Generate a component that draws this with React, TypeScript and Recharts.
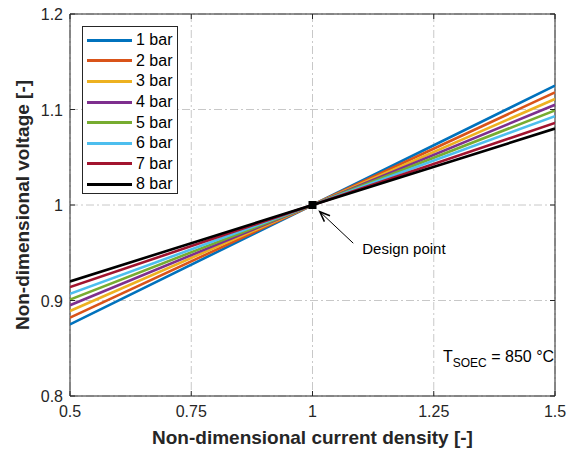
import React from 'react';
import {
  LineChart,
  Line,
  XAxis,
  YAxis,
  CartesianGrid,
  ReferenceArea,
  ReferenceDot,
  ReferenceLine,
} from 'recharts';

// x positions of the plotted points (non-dimensional current density)
const currentDensity = [0.5, 1, 1.5];
const pressureLabels = ['1 bar', '2 bar', '3 bar', '4 bar', '5 bar', '6 bar', '7 bar', '8 bar'];
// voltage at j = 0.5, 1 and 1.5 for each pressure
const voltageLow = [0.875, 0.882, 0.889, 0.895, 0.901, 0.907, 0.914, 0.92];
const voltageMid = [1, 1, 1, 1, 1, 1, 1, 1];
const voltageHigh = [1.125, 1.118, 1.111, 1.105, 1.099, 1.093, 1.086, 1.08];
const seriesColors = ['#0072BD', '#D95319', '#EDB120', '#7E2F8E', '#77AC30', '#4DBEEE', '#A2142F', '#000000'];

const xTicks = [0.5, 0.75, 1, 1.25, 1.5];
const yTicks = [0.8, 0.9, 1, 1.1, 1.2];
const designPoint = { x: 1, y: 1 };
const arrowFrom = { x: 1.084, y: 0.96 };
const arrowTo = { x: 1.015, y: 0.993 };

const columns = [voltageLow, voltageMid, voltageHigh];
const data = currentDensity.map((x, i) => {
  const row: Record<string, number> = { x };
  pressureLabels.forEach((name, s) => {
    row[name] = columns[i][s];
  });
  return row;
});

const FONT = 'Arial, "Liberation Sans", Helvetica, sans-serif';
const PLOT_TOP = 14;
const PLOT_BOTTOM = 396;
const PLOT_LEFT = 70;
const PLOT_RIGHT = 555;

const XTick = ({ x, y, payload }: any) => (
  <g>
    <line x1={x} x2={x} y1={PLOT_BOTTOM} y2={PLOT_BOTTOM - 5} stroke="#262626" />
    <line x1={x} x2={x} y1={PLOT_TOP} y2={PLOT_TOP + 5} stroke="#262626" />
    <text x={x} y={y + 21} textAnchor="middle" fontSize={16} fill="#262626" fontFamily={FONT}>
      {String(payload.value)}
    </text>
  </g>
);

const YTick = ({ x, y, payload }: any) => (
  <g>
    <line x1={PLOT_LEFT} x2={PLOT_LEFT + 5} y1={y} y2={y} stroke="#262626" />
    <line x1={PLOT_RIGHT} x2={PLOT_RIGHT - 5} y1={y} y2={y} stroke="#262626" />
    <text x={x - 7} y={y + 6} textAnchor="end" fontSize={16} fill="#262626" fontFamily={FONT}>
      {String(payload.value)}
    </text>
  </g>
);

const LegendBox = () => (
  <div
    style={{
      position: 'absolute',
      left: 82,
      top: 26,
      width: 96,
      height: 168,
      boxSizing: 'border-box',
      border: '1px solid #262626',
      background: '#fff',
      padding: '3px 0 0 4px',
      fontFamily: FONT,
      fontSize: 16,
      color: '#000',
    }}
  >
    {pressureLabels.map((name, i) => (
      <div key={name} style={{ display: 'flex', alignItems: 'center', height: 20.6 }}>
        <div style={{ width: 45, height: 3, background: seriesColors[i], marginRight: 4 }} />
        <span>{name}</span>
      </div>
    ))}
  </div>
);

const Arrow = (props: any) => {
  const { x1, y1, x2, y2 } = props;
  const ang = Math.atan2(y2 - y1, x2 - x1);
  const len = 11;
  const spread = 0.38;
  const p1 = [x2 - len * Math.cos(ang - spread), y2 - len * Math.sin(ang - spread)];
  const p2 = [x2 - len * Math.cos(ang + spread), y2 - len * Math.sin(ang + spread)];
  return (
    <g>
      <line x1={x1} y1={y1} x2={x2} y2={y2} stroke="#000" strokeWidth={1} />
      <polyline points={`${p1[0]},${p1[1]} ${x2},${y2} ${p2[0]},${p2[1]}`} fill="none" stroke="#000" strokeWidth={1.5} />
      <text x={x1 + 9} y={y1 + 11} fontSize={15} fontFamily={FONT} fill="#000">
        Design point
      </text>
    </g>
  );
};

export default function App() {
  return (
    <div style={{ position: 'absolute', left: 0, top: 0, width: 572, height: 450 }}>
      <LineChart width={572} height={450} data={data} margin={{ top: PLOT_TOP, right: 572 - PLOT_RIGHT, left: 0, bottom: 0 }}>
        <CartesianGrid stroke="#c8c8c8" strokeDasharray="8 3 2 3" />
        <XAxis
          dataKey="x"
          type="number"
          domain={[0.5, 1.5]}
          ticks={xTicks}
          tickSize={0}
          tickMargin={0}
          tick={<XTick />}
          axisLine={false}
          height={54}
          allowDataOverflow
          label={{
            content: ({ viewBox }: any) => (
              <text
                x={viewBox.x + viewBox.width / 2}
                y={viewBox.y + 48}
                textAnchor="middle"
                fontSize={19}
                fontWeight="bold"
                fontFamily={FONT}
                fill="#262626"
              >
                Non-dimensional current density [-]
              </text>
            ),
          }}
        />
        <YAxis
          type="number"
          domain={[0.8, 1.2]}
          ticks={yTicks}
          tickSize={0}
          tickMargin={0}
          tick={<YTick />}
          axisLine={false}
          width={PLOT_LEFT}
          allowDataOverflow
          label={{
            content: ({ viewBox }: any) => {
              const cy = viewBox.y + viewBox.height / 2;
              return (
                <text
                  x={22}
                  y={cy}
                  transform={`rotate(-90 22 ${cy})`}
                  textAnchor="middle"
                  dominantBaseline="central"
                  fontSize={19}
                  fontWeight="bold"
                  fontFamily={FONT}
                  fill="#262626"
                >
                  Non-dimensional voltage [-]
                </text>
              );
            },
          }}
        />
        <ReferenceArea x1={0.5} x2={1.5} y1={0.8} y2={1.2} fill="none" stroke="#262626" strokeWidth={1} />
        {pressureLabels.map((name, i) => (
          <Line
            key={name}
            dataKey={name}
            stroke={seriesColors[i]}
            strokeWidth={2.6}
            dot={false}
            isAnimationActive={false}
          />
        ))}
        <ReferenceDot
          x={designPoint.x}
          y={designPoint.y}
          r={4}
          shape={(p: any) => <rect x={p.cx - 4} y={p.cy - 4} width={8} height={8} fill="#000" />}
        />
        <ReferenceLine
          segment={[arrowFrom, arrowTo]}
          shape={(p: any) => <Arrow {...p} />}
        />
        <text x={443} y={362} fontSize={16} fontFamily={FONT} fill="#000">
          T
          <tspan fontSize={12} dy={5}>SOEC</tspan>
          <tspan dy={-5}> = 850 °C</tspan>
        </text>
      </LineChart>
      <LegendBox />
    </div>
  );
}
